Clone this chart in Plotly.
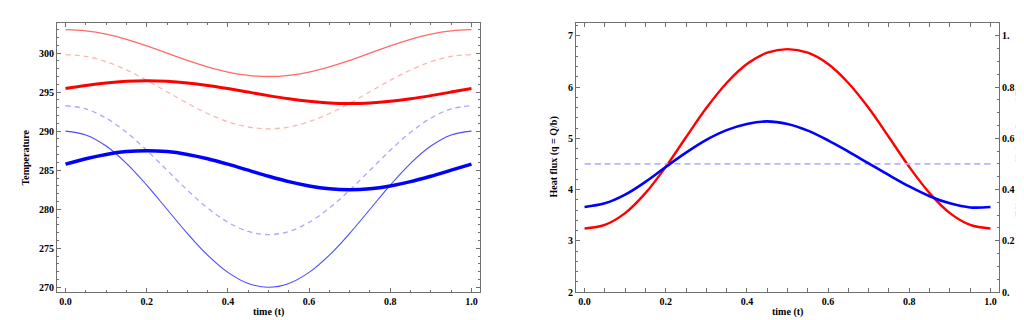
import plotly.graph_objects as go

# ---- data ----
t = [0.0, 0.05, 0.1, 0.15, 0.2, 0.25, 0.3, 0.35, 0.4, 0.45, 0.5,
     0.55, 0.6, 0.65, 0.7, 0.75, 0.8, 0.85, 0.9, 0.95, 1.0]

red_thin = [303.0, 302.85, 302.43, 301.76, 300.93, 300.0, 299.07, 298.24, 297.57, 297.15, 297.0,
            297.15, 297.57, 298.24, 299.07, 300.0, 300.93, 301.76, 302.43, 302.85, 303.0]
red_dashed = [299.8, 299.57, 298.89, 297.84, 296.52, 295.05, 293.58, 292.26, 291.21, 290.53, 290.3,
              290.53, 291.21, 292.26, 293.58, 295.05, 296.52, 297.84, 298.89, 299.57, 299.8]
red_thick = [295.45, 295.85, 296.17, 296.38, 296.45, 296.38, 296.17, 295.85, 295.45, 295.0, 294.55,
             294.15, 293.83, 293.62, 293.55, 293.62, 293.83, 294.15, 294.55, 295.0, 295.45]
blue_thin = [290.0, 289.51, 288.09, 285.88, 283.09, 280.0, 276.91, 274.12, 271.91, 270.49, 270.0,
             270.49, 271.91, 274.12, 276.91, 280.0, 283.09, 285.88, 288.09, 289.51, 290.0]
blue_dashed = [293.25, 292.85, 291.67, 289.85, 287.55, 285.0, 282.45, 280.15, 278.33, 277.15, 276.75,
               277.15, 278.33, 280.15, 282.45, 285.0, 287.55, 289.85, 291.67, 292.85, 293.25]
blue_thick = [285.77, 286.47, 287.02, 287.38, 287.5, 287.38, 287.02, 286.47, 285.77, 285.0, 284.23,
              283.53, 282.98, 282.62, 282.5, 282.62, 282.98, 283.53, 284.23, 285.0, 285.77]

heat_flux = [3.24, 3.31, 3.54, 3.93, 4.44, 5.02, 5.59, 6.08, 6.45, 6.67, 6.74,
             6.67, 6.45, 6.08, 5.59, 5.02, 4.44, 3.93, 3.54, 3.31, 3.24]
eff_coef = [0.332, 0.346, 0.380, 0.430, 0.488, 0.544, 0.594, 0.632, 0.656, 0.666, 0.656,
            0.630, 0.592, 0.548, 0.502, 0.456, 0.412, 0.374, 0.346, 0.330, 0.332]
eff_mean = [0.5] * len(t)

temp_ticks = [270, 275, 280, 285, 290, 295, 300]
flux_ticks = [2, 3, 4, 5, 6, 7]
coef_ticks = [0.0, 0.2, 0.4, 0.6, 0.8, 1.0]
coef_labels = ["0.", "0.2", "0.4", "0.6", "0.8", "1."]
x_ticks = [0.0, 0.2, 0.4, 0.6, 0.8, 1.0]

FONT = dict(family="Liberation Serif", size=10, color="black", weight="bold")
FRAME = "#707070"

fig = go.Figure()

def add(x, y, color, width, dash="solid", xa="x", ya="y"):
    fig.add_trace(go.Scatter(x=x, y=y, mode="lines", xaxis=xa, yaxis=ya,
                             line=dict(color=color, width=width, dash=dash, shape="spline"),
                             showlegend=False, hoverinfo="skip"))

# left panel
add(t, red_thin, "#ff6a6a", 1.3)
add(t, red_dashed, "#ffb4b4", 1.3, "5px,4px")
add(t, red_thick, "#ff0000", 3.0)
add(t, blue_thin, "#4a4aff", 1.1)
add(t, blue_dashed, "#a8a8ff", 1.3, "5px,4px")
add(t, blue_thick, "#0000ff", 3.5)

# right panel
add(t, eff_mean, "#b4b4ff", 1.6, "6px,4px", "x2", "y4")
add(t, heat_flux, "#ff0000", 2.4, "solid", "x2", "y3")
add(t, eff_coef, "#0000ff", 2.6, "solid", "x2", "y4")

def xax(domain, anchor):
    return dict(domain=domain, anchor=anchor, range=[-0.021, 1.021],
                tickvals=x_ticks, tickformat=".1f", ticks="inside", ticklen=4,
                tickcolor=FRAME, showline=True, linecolor=FRAME, linewidth=1,
                mirror="allticks", showgrid=False, zeroline=False, tickfont=FONT,
                minor=dict(dtick=0.05, ticks="inside", ticklen=2, tickcolor=FRAME, showgrid=False))

def yax(rng, vals, minor_dtick, anchor, mirror="allticks", side="left", overlaying=None, text=None):
    d = dict(anchor=anchor, range=rng, tickvals=vals, ticks="inside", ticklen=4,
             tickcolor=FRAME, showline=True, linecolor=FRAME, linewidth=1,
             mirror=mirror, showgrid=False, zeroline=False, tickfont=FONT, side=side,
             minor=dict(dtick=minor_dtick, ticks="inside", ticklen=2, tickcolor=FRAME, showgrid=False))
    if text is not None:
        d["ticktext"] = text
    if overlaying:
        d["overlaying"] = overlaying
    else:
        d["domain"] = [0, 1]
    return d

fig.update_layout(
    width=1024, height=320,
    margin=dict(l=0, r=0, t=15, b=36),
    paper_bgcolor="white", plot_bgcolor="white",
    xaxis=xax([49 / 1024, 472 / 1024], "y"),
    yaxis=yax([269.4, 303.85], temp_ticks, 1, "x"),
    xaxis2=xax([568 / 1024, 991 / 1024], "y3"),
    yaxis3=yax([2, 7.25], flux_ticks, 0.2, "x2", mirror=False),
    yaxis4=yax([0, 1.05], coef_ticks, 0.05, "x2", mirror=False, side="right",
               overlaying="y3", text=coef_labels),
)

TF = dict(family="Liberation Serif", size=10, color="black", weight="bold")
ann = [
    dict(text="Temperature", x=17 / 1024, y=0.5, textangle=-90),
    dict(text="time (t)", x=260 / 1024, y=-0.074, textangle=0),
    dict(text="Heat flux (q = Q/b)", x=545 / 1024, y=0.5, textangle=-90),
    dict(text="time (t)", x=779 / 1024, y=-0.074, textangle=0),
    dict(text="Effective coefficient (k = q/ΔT)", x=1012 / 1024, y=0.52, textangle=-90),
]
for a in ann:
    fig.add_annotation(xref="paper", yref="paper", showarrow=False, font=TF,
                       xanchor="center", yanchor="middle", **a)

fig.write_html("out.html")
